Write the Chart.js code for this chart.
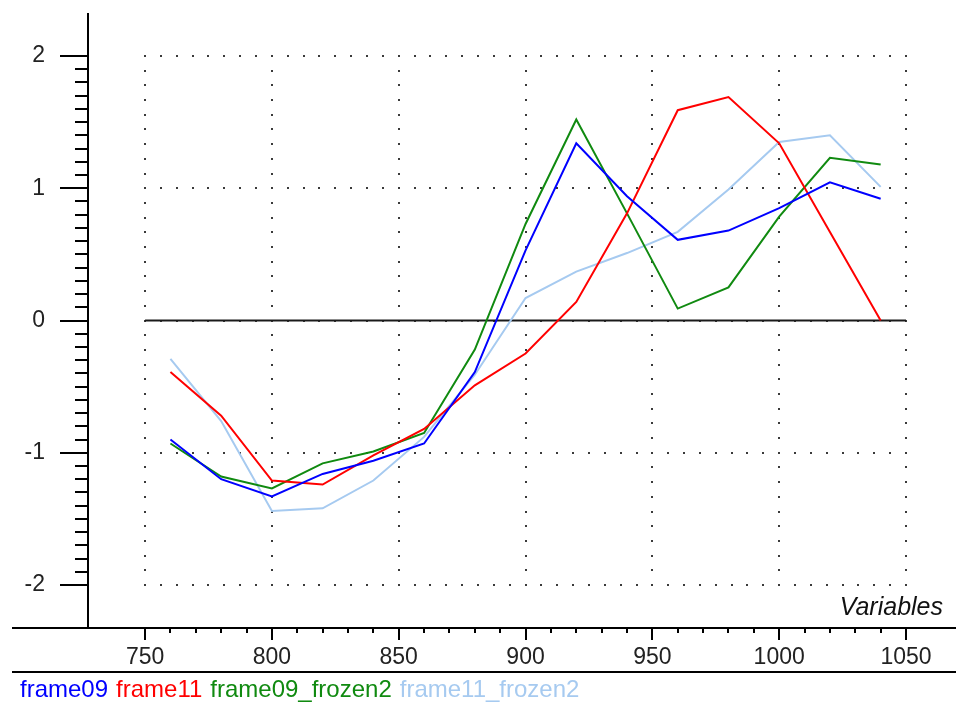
<!DOCTYPE html>
<html>
<head>
<meta charset="utf-8">
<script src="https://cdn.jsdelivr.net/npm/chart.js@4.4.1/dist/chart.umd.min.js"></script>
<style>
  html, body { margin: 0; padding: 0; background: #ffffff; }
  #wrap { width: 956px; height: 703px; position: relative; }
</style>
</head>
<body>
<div id="wrap"><canvas id="chart" width="956" height="703"></canvas></div>
<script>
// Wavelength variables (x) and the four spectra
const variables = [760, 780, 800, 820, 840, 860, 880, 900, 920, 940, 960, 980, 1000, 1020, 1040];
const frame09 = [-0.90, -1.20, -1.33, -1.16, -1.06, -0.93, -0.39, 0.53, 1.34, 0.94, 0.61, 0.68, 0.85, 1.045, 0.92];
const frame11 = [-0.39, -0.72, -1.21, -1.24, -1.02, -0.82, -0.49, -0.25, 0.14, 0.81, 1.59, 1.69, 1.34, 0.67, 0.00];
const frame09_frozen2 = [-0.93, -1.18, -1.27, -1.08, -0.99, -0.85, -0.22, 0.73, 1.52, 0.81, 0.09, 0.25, 0.785, 1.23, 1.18];
const frame11_frozen2 = [-0.29, -0.76, -1.44, -1.42, -1.21, -0.88, -0.41, 0.17, 0.37, 0.51, 0.67, 0.99, 1.35, 1.40, 1.01];

const seriesNames = ['frame09', 'frame11', 'frame09_frozen2', 'frame11_frozen2'];
const seriesData = [frame09, frame11, frame09_frozen2, frame11_frozen2];
const seriesColors = ['#0000ff', '#ff0000', '#108a10', '#a6caf0'];

const xMajorTicks = [750, 800, 850, 900, 950, 1000, 1050];
const yMajorTicks = [-2, -1, 0, 1, 2];

const FONT = '"Liberation Sans", Arial, sans-serif';

// Dotted grid, zero line, axis lines, tick marks, axis title and legend text
const decorations = {
  id: 'decorations',
  beforeDatasetsDraw(chart) {
    const ctx = chart.ctx;
    const xs = chart.scales.x, ys = chart.scales.y;
    const x0 = xs.getPixelForValue(750), x1 = xs.getPixelForValue(1050);
    const y0 = ys.getPixelForValue(2), y1 = ys.getPixelForValue(-2);
    ctx.save();
    ctx.fillStyle = '#3a3a3a';
    // horizontal dotted lines
    yMajorTicks.forEach(v => {
      const py = Math.round(ys.getPixelForValue(v));
      for (let i = 0; i <= 48; i++) {
        const px = x0 + (x1 - x0) * i / 48;
        ctx.fillRect(Math.round(px) - 1, py - 1, 2, 2);
      }
    });
    // vertical dotted lines
    xMajorTicks.forEach(v => {
      const px = Math.round(xs.getPixelForValue(v));
      for (let i = 0; i <= 36; i++) {
        const py = y0 + (y1 - y0) * i / 36;
        ctx.fillRect(px - 1, Math.round(py) - 1, 2, 2);
      }
    });
    // zero line
    ctx.strokeStyle = '#1a1a1a';
    ctx.lineWidth = 2;
    ctx.beginPath();
    const pz = ys.getPixelForValue(0);
    ctx.moveTo(x0, pz); ctx.lineTo(x1, pz);
    ctx.stroke();
    ctx.restore();
  },
  afterDraw(chart) {
    const ctx = chart.ctx;
    const xs = chart.scales.x, ys = chart.scales.y;
    const area = chart.chartArea;
    ctx.save();
    ctx.strokeStyle = '#000000';
    ctx.lineWidth = 2;
    // y axis line
    ctx.beginPath();
    ctx.moveTo(area.left, area.top); ctx.lineTo(area.left, area.bottom);
    ctx.stroke();
    // x axis line and the separator above the legend
    ctx.beginPath();
    ctx.moveTo(12, area.bottom); ctx.lineTo(chart.width, area.bottom);
    ctx.moveTo(12, xs.bottom); ctx.lineTo(chart.width, xs.bottom);
    ctx.stroke();
    // y tick marks
    for (let k = -20; k <= 20; k++) {
      const py = Math.round(ys.getPixelForValue(k / 10));
      const len = (k % 10 === 0) ? 28 : 13;
      ctx.beginPath();
      ctx.moveTo(area.left - len, py); ctx.lineTo(area.left, py);
      ctx.stroke();
    }
    // x tick marks
    for (let v = 750; v <= 1050; v += 10) {
      const px = Math.round(xs.getPixelForValue(v));
      const len = (v % 50 === 0) ? 12 : 5;
      ctx.beginPath();
      ctx.moveTo(px, area.bottom); ctx.lineTo(px, area.bottom + len);
      ctx.stroke();
    }
    // axis title
    ctx.fillStyle = '#111111';
    ctx.font = 'italic 25px ' + FONT;
    ctx.textAlign = 'right';
    ctx.textBaseline = 'alphabetic';
    ctx.fillText('Variables', 943, 615);
    // legend: coloured series names in a row
    ctx.font = '24px ' + FONT;
    ctx.textAlign = 'left';
    let lx = 20;
    chart.data.datasets.forEach(ds => {
      ctx.fillStyle = ds.borderColor;
      ctx.fillText(ds.label, lx, 697);
      lx += ctx.measureText(ds.label).width + 8;
    });
    ctx.restore();
  }
};

new Chart(document.getElementById('chart'), {
  type: 'line',
  data: {
    labels: variables,
    datasets: seriesNames.map((name, i) => ({
      label: name,
      data: variables.map((x, j) => ({ x: x, y: seriesData[i][j] })),
      borderColor: seriesColors[i],
      backgroundColor: seriesColors[i],
      borderWidth: 2,
      pointRadius: 0,
      tension: 0,
      fill: false
    }))
  },
  options: {
    responsive: false,
    animation: false,
    events: [],
    layout: { padding: { top: 13, right: 0, bottom: 31, left: 0 } },
    plugins: { legend: { display: false }, tooltip: { enabled: false } },
    scales: {
      x: {
        type: 'linear',
        min: 727.5,
        max: 1069.7,
        grid: { display: false, drawTicks: false },
        border: { display: false },
        ticks: {
          stepSize: 50,
          includeBounds: false,
          autoSkip: false,
          maxRotation: 0,
          padding: 16,
          color: '#222222',
          font: { family: FONT, size: 23 },
          callback: v => (xMajorTicks.includes(v) ? String(v) : '')
        },
        afterFit: s => { s.height = 44; s.paddingLeft = 0; s.paddingRight = 0; }
      },
      y: {
        type: 'linear',
        min: -2.325,
        max: 2.325,
        grid: { display: false, drawTicks: false },
        border: { display: false },
        ticks: {
          stepSize: 1,
          includeBounds: false,
          padding: 43,
          color: '#222222',
          font: { family: FONT, size: 23 },
          callback: v => (yMajorTicks.includes(v) ? String(v) : '')
        },
        afterFit: s => { s.width = 88; s.paddingTop = 0; s.paddingBottom = 0; }
      }
    }
  },
  plugins: [decorations]
});
</script>
</body>
</html>
